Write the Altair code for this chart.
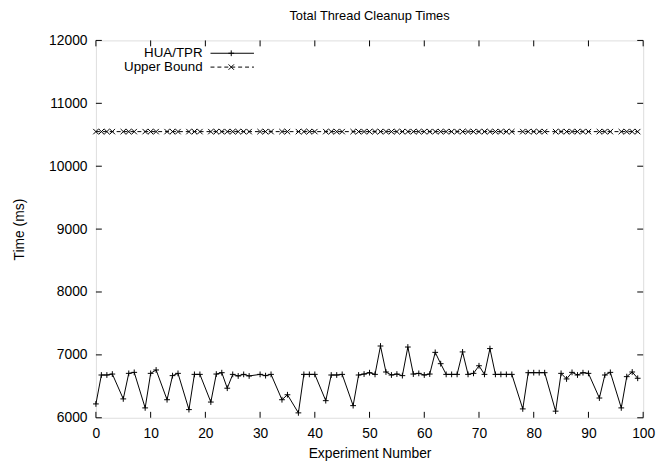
import altair as alt
import pandas as pd

# Experiment numbers present in the data
experiments = [0, 1, 2, 3, 5, 6, 7, 9, 10, 11, 13, 14, 15, 17, 18, 19,
               21, 22, 23, 24, 25, 26, 27, 28, 30, 31, 32, 34, 35,
               37, 38, 39, 40, 42, 43, 44, 45,
               47, 48, 49, 50, 51, 52, 53, 54, 55, 56, 57, 58, 59, 60, 61,
               62, 63, 64, 65, 66, 67, 68, 69, 70, 71, 72, 73, 74, 75, 76,
               78, 79, 80, 81, 82, 84, 85, 86, 87, 88, 89, 90,
               92, 93, 94, 96, 97, 98, 99]

hua_tpr = [6220, 6680, 6680, 6695, 6300, 6706, 6722, 6157, 6706, 6760,
           6287, 6670, 6706, 6130, 6690, 6690,
           6250, 6695, 6717, 6470, 6690, 6665, 6690, 6665, 6690, 6670, 6690,
           6287, 6366,
           6078, 6690, 6690, 6690, 6272, 6680, 6680, 6690,
           6193, 6680, 6695, 6717, 6690, 7141, 6728, 6680, 6695, 6670, 7125,
           6695, 6706, 6680, 6695,
           7040, 6860, 6690, 6690, 6690, 7047, 6690, 6706, 6827, 6690, 7100,
           6690, 6690, 6690, 6690,
           6141, 6717, 6717, 6717, 6717, 6105, 6706, 6617, 6722, 6680, 6717, 6706,
           6314, 6680, 6722, 6157, 6654, 6728, 6628]

upper_bound_value = 10550
upper_bound = [upper_bound_value] * len(experiments)

x_ticks = [0, 10, 20, 30, 40, 50, 60, 70, 80, 90, 100]
y_ticks = [6000, 7000, 8000, 9000, 10000, 11000, 12000]
legend_labels = ["HUA/TPR", "Upper Bound"]

FONT = "Liberation Sans"
W, H = 554, 382
TICK = 6

df = pd.DataFrame({"x": experiments, "hua": hua_tpr, "ub": upper_bound})
xt = pd.DataFrame({"t": x_ticks})
yt = pd.DataFrame({"t": y_ticks})

xscale = alt.Scale(domain=[0, 100], nice=False, zero=False)
yscale = alt.Scale(domain=[6000, 12000], nice=False, zero=False)

plus = "M-1,0L1,0M0,-1L0,1"
cross = "M-1,-1L1,1M-1,1L1,-1"

base = alt.Chart(df)

x_enc = alt.X("x:Q", scale=xscale, title="Experiment Number",
              axis=alt.Axis(values=x_ticks, format="d", ticks=False, domain=False, grid=False,
                            labelFont=FONT, labelFontSize=14, labelColor="black",
                            labelPadding=9, titleFont=FONT, titleFontSize=14,
                            titleFontWeight="normal", titleColor="black",
                            titlePadding=6, labelFlush=False))
y_enc = alt.Y("hua:Q", scale=yscale, title="Time (ms)",
              axis=alt.Axis(values=y_ticks, format="d", ticks=False, domain=False, grid=False,
                            labelFont=FONT, labelFontSize=14, labelColor="black",
                            labelPadding=9, titleFont=FONT, titleFontSize=14,
                            titleFontWeight="normal", titleColor="black",
                            titlePadding=22, labelFlush=False))

hua_line = base.mark_line(color="black", strokeWidth=1).encode(x=x_enc, y=y_enc)
hua_pts = base.mark_point(shape=plus, filled=False, color="black",
                          strokeWidth=1, size=34, opacity=1).encode(
    x=alt.X("x:Q", scale=xscale), y=alt.Y("hua:Q", scale=yscale))

ub_line = base.mark_line(color="black", strokeWidth=1, strokeDash=[4, 3]).encode(
    x=alt.X("x:Q", scale=xscale), y=alt.Y("ub:Q", scale=yscale))
ub_pts = base.mark_point(shape=cross, filled=False, color="black",
                         strokeWidth=1, size=30, opacity=1).encode(
    x=alt.X("x:Q", scale=xscale), y=alt.Y("ub:Q", scale=yscale))

# inward ticks (gnuplot style), mirrored
xt_bottom = alt.Chart(xt).mark_rule(color="black", strokeWidth=1).encode(
    x=alt.X("t:Q", scale=xscale), y=alt.value(H), y2=alt.value(H - TICK))
xt_top = alt.Chart(xt).mark_rule(color="black", strokeWidth=1).encode(
    x=alt.X("t:Q", scale=xscale), y=alt.value(0), y2=alt.value(TICK))
yt_left = alt.Chart(yt).mark_rule(color="black", strokeWidth=1).encode(
    y=alt.Y("t:Q", scale=yscale), x=alt.value(0), x2=alt.value(TICK))
yt_right = alt.Chart(yt).mark_rule(color="black", strokeWidth=1).encode(
    y=alt.Y("t:Q", scale=yscale), x=alt.value(W - TICK), x2=alt.value(W))

# legend (gnuplot style: label right-aligned, sample to the right)
leg1_y, leg2_y = 13, 27
leg_text_x = 108
leg_l0, leg_l1, leg_pt = 116, 160, 137
leg_df = pd.DataFrame({"label": legend_labels})
leg_text1 = alt.Chart(leg_df.iloc[[0]]).mark_text(
    align="right", baseline="middle", font=FONT, fontSize=13.5, color="black").encode(
    text="label:N", x=alt.value(leg_text_x), y=alt.value(leg1_y))
leg_text2 = alt.Chart(leg_df.iloc[[1]]).mark_text(
    align="right", baseline="middle", font=FONT, fontSize=13.5, color="black").encode(
    text="label:N", x=alt.value(leg_text_x), y=alt.value(leg2_y))
leg_line1 = alt.Chart(leg_df.iloc[[0]]).mark_rule(color="black", strokeWidth=1).encode(
    x=alt.value(leg_l0), x2=alt.value(leg_l1), y=alt.value(leg1_y))
leg_line2 = alt.Chart(leg_df.iloc[[1]]).mark_rule(color="black", strokeWidth=1,
                                                   strokeDash=[4, 3]).encode(
    x=alt.value(leg_l0), x2=alt.value(leg_l1), y=alt.value(leg2_y))
leg_pt1 = alt.Chart(leg_df.iloc[[0]]).mark_point(shape=plus, filled=False, color="black",
                                                  strokeWidth=1, size=34, opacity=1).encode(
    x=alt.value(leg_pt), y=alt.value(leg1_y))
leg_pt2 = alt.Chart(leg_df.iloc[[1]]).mark_point(shape=cross, filled=False, color="black",
                                                  strokeWidth=1, size=30, opacity=1).encode(
    x=alt.value(leg_pt), y=alt.value(leg2_y))

chart = alt.layer(
    hua_line, hua_pts, ub_line, ub_pts,
    xt_bottom, xt_top, yt_left, yt_right,
    leg_text1, leg_text2, leg_line1, leg_line2, leg_pt1, leg_pt2,
).properties(
    width=W, height=H,
    title=alt.TitleParams("Total Thread Cleanup Times", font=FONT, fontSize=13,
                          fontWeight="normal", color="black", offset=11),
    autosize=alt.AutoSizeParams(type="none"),
    padding={"left": 89, "top": 30, "right": 14, "bottom": 46},
).configure_view(
    stroke="black", strokeWidth=1
).configure(background="white")

chart.save("out.html", embed_options={"renderer": "svg", "actions": False})
